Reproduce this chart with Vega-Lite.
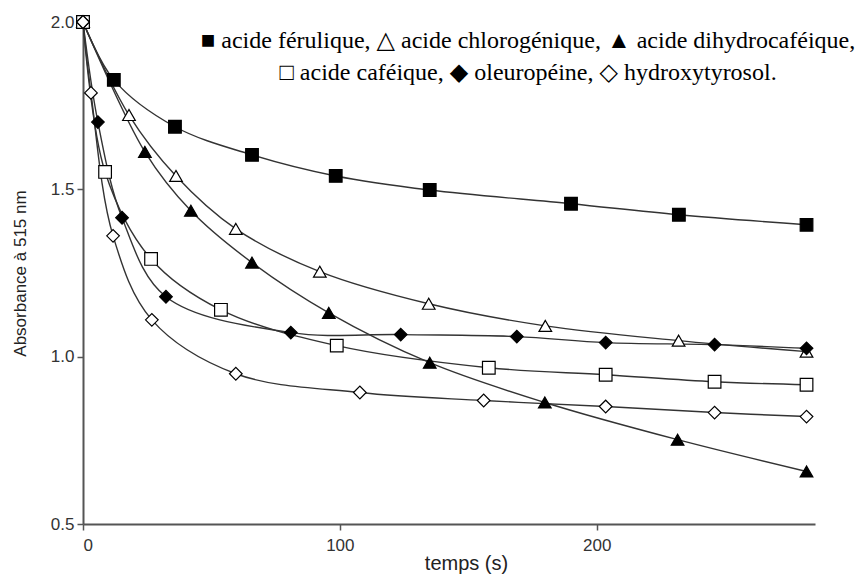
{
  "$schema": "https://vega.github.io/schema/vega-lite/v6.json",
  "width": 732,
  "height": 502,
  "autosize": {"type": "none"},
  "padding": {"left": 83, "top": 22, "right": 43, "bottom": 51},
  "background": "white",
  "title": {
    "text": "■ acide férulique, △ acide chlorogénique, ▲ acide dihydrocaféique,",
    "subtitle": "□ acide caféique, ◆ oleuropéine, ◇ hydroxytyrosol.",
    "font": "Liberation Serif, DejaVu Serif",
    "fontSize": 24,
    "fontWeight": "normal",
    "color": "black",
    "subtitleFont": "Liberation Serif, DejaVu Serif",
    "subtitleFontSize": 24,
    "subtitleColor": "black",
    "subtitlePadding": 8,
    "anchor": "middle",
    "dx": 79,
    "dy": 76
  },
  "config": {
    "view": {"stroke": null},
    "axis": {
      "grid": false,
      "domainColor": "#555555",
      "domainWidth": 2,
      "tickColor": "#555555",
      "tickWidth": 1.5,
      "tickSize": 6,
      "labelFont": "Liberation Sans",
      "labelFontSize": 17,
      "labelColor": "#333333",
      "titleFont": "Liberation Sans",
      "titleFontWeight": "normal",
      "titleColor": "#222222"
    }
  },
  "data": {
    "values": [
      {"t": 0, "A": 2.0, "s": "acide férulique"},
      {"t": 12, "A": 1.827, "s": "acide férulique"},
      {"t": 35.8, "A": 1.687, "s": "acide férulique"},
      {"t": 65.8, "A": 1.603, "s": "acide férulique"},
      {"t": 98.4, "A": 1.54, "s": "acide férulique"},
      {"t": 135, "A": 1.498, "s": "acide férulique"},
      {"t": 190, "A": 1.457, "s": "acide férulique"},
      {"t": 232, "A": 1.424, "s": "acide férulique"},
      {"t": 281.7, "A": 1.394, "s": "acide férulique"},
      {"t": 0, "A": 2.0, "s": "acide chlorogénique"},
      {"t": 17.9, "A": 1.722, "s": "acide chlorogénique"},
      {"t": 36.2, "A": 1.54, "s": "acide chlorogénique"},
      {"t": 59.5, "A": 1.382, "s": "acide chlorogénique"},
      {"t": 92.2, "A": 1.254, "s": "acide chlorogénique"},
      {"t": 134.6, "A": 1.158, "s": "acide chlorogénique"},
      {"t": 180, "A": 1.092, "s": "acide chlorogénique"},
      {"t": 231.9, "A": 1.048, "s": "acide chlorogénique"},
      {"t": 281.7, "A": 1.015, "s": "acide chlorogénique"},
      {"t": 0, "A": 2.0, "s": "acide dihydrocaféique"},
      {"t": 24.1, "A": 1.612, "s": "acide dihydrocaféique"},
      {"t": 42, "A": 1.436, "s": "acide dihydrocaféique"},
      {"t": 65.8, "A": 1.281, "s": "acide dihydrocaféique"},
      {"t": 95.7, "A": 1.131, "s": "acide dihydrocaféique"},
      {"t": 135, "A": 0.982, "s": "acide dihydrocaféique"},
      {"t": 179.8, "A": 0.863, "s": "acide dihydrocaféique"},
      {"t": 231.5, "A": 0.752, "s": "acide dihydrocaféique"},
      {"t": 281.7, "A": 0.657, "s": "acide dihydrocaféique"},
      {"t": 0, "A": 2.0, "s": "acide caféique"},
      {"t": 8.6, "A": 1.552, "s": "acide caféique"},
      {"t": 26.5, "A": 1.292, "s": "acide caféique"},
      {"t": 53.7, "A": 1.14, "s": "acide caféique"},
      {"t": 98.8, "A": 1.033, "s": "acide caféique"},
      {"t": 158, "A": 0.967, "s": "acide caféique"},
      {"t": 203.5, "A": 0.946, "s": "acide caféique"},
      {"t": 245.9, "A": 0.925, "s": "acide caféique"},
      {"t": 281.7, "A": 0.916, "s": "acide caféique"},
      {"t": 0, "A": 2.0, "s": "oleuropéine"},
      {"t": 5.8, "A": 1.701, "s": "oleuropéine"},
      {"t": 15.2, "A": 1.415, "s": "oleuropéine"},
      {"t": 32.3, "A": 1.179, "s": "oleuropéine"},
      {"t": 80.9, "A": 1.072, "s": "oleuropéine"},
      {"t": 123.7, "A": 1.066, "s": "oleuropéine"},
      {"t": 168.9, "A": 1.06, "s": "oleuropéine"},
      {"t": 203.5, "A": 1.042, "s": "oleuropéine"},
      {"t": 245.9, "A": 1.036, "s": "oleuropéine"},
      {"t": 281.7, "A": 1.025, "s": "oleuropéine"},
      {"t": 0, "A": 2.0, "s": "hydroxytyrosol"},
      {"t": 3.1, "A": 1.788, "s": "hydroxytyrosol"},
      {"t": 11.7, "A": 1.361, "s": "hydroxytyrosol"},
      {"t": 26.8, "A": 1.11, "s": "hydroxytyrosol"},
      {"t": 59.5, "A": 0.949, "s": "hydroxytyrosol"},
      {"t": 107.8, "A": 0.893, "s": "hydroxytyrosol"},
      {"t": 156, "A": 0.869, "s": "hydroxytyrosol"},
      {"t": 203.5, "A": 0.851, "s": "hydroxytyrosol"},
      {"t": 245.9, "A": 0.833, "s": "hydroxytyrosol"},
      {"t": 281.7, "A": 0.821, "s": "hydroxytyrosol"}
    ]
  },
  "encoding": {
    "x": {
      "field": "t",
      "type": "quantitative",
      "scale": {"domain": [0, 285], "nice": false, "zero": false},
      "axis": {"values": [0, 100, 200], "title": "temps (s)", "titleFontSize": 20, "titlePadding": 0, "titleX": 383, "labelPadding": 7}
    },
    "y": {
      "field": "A",
      "type": "quantitative",
      "scale": {"domain": [0.5, 2.0], "nice": false, "zero": false},
      "axis": {"values": [0.5, 1.0, 1.5, 2.0], "format": ".1f", "title": "Absorbance à 515 nm", "titleFontSize": 17, "titlePadding": 21, "labelPadding": 3}
    }
  },
  "layer": [
    {
      "mark": {"type": "line", "interpolate": "catmull-rom", "color": "#333333", "strokeWidth": 1.4},
      "encoding": {"detail": {"field": "s", "type": "nominal"}}
    },
    {
      "mark": {"type": "point", "filled": true, "stroke": "black", "strokeWidth": 1.2, "opacity": 1, "size": 160},
      "encoding": {
        "shape": {
          "field": "s",
          "type": "nominal",
          "scale": {
            "domain": ["acide férulique", "acide chlorogénique", "acide dihydrocaféique", "acide caféique", "oleuropéine", "hydroxytyrosol"],
            "range": ["square", "triangle-up", "triangle-up", "square", "diamond", "diamond"]
          },
          "legend": null
        },
        "fill": {
          "field": "s",
          "type": "nominal",
          "scale": {
            "domain": ["acide férulique", "acide chlorogénique", "acide dihydrocaféique", "acide caféique", "oleuropéine", "hydroxytyrosol"],
            "range": ["black", "white", "black", "white", "black", "white"]
          },
          "legend": null
        }
      }
    }
  ]
}
